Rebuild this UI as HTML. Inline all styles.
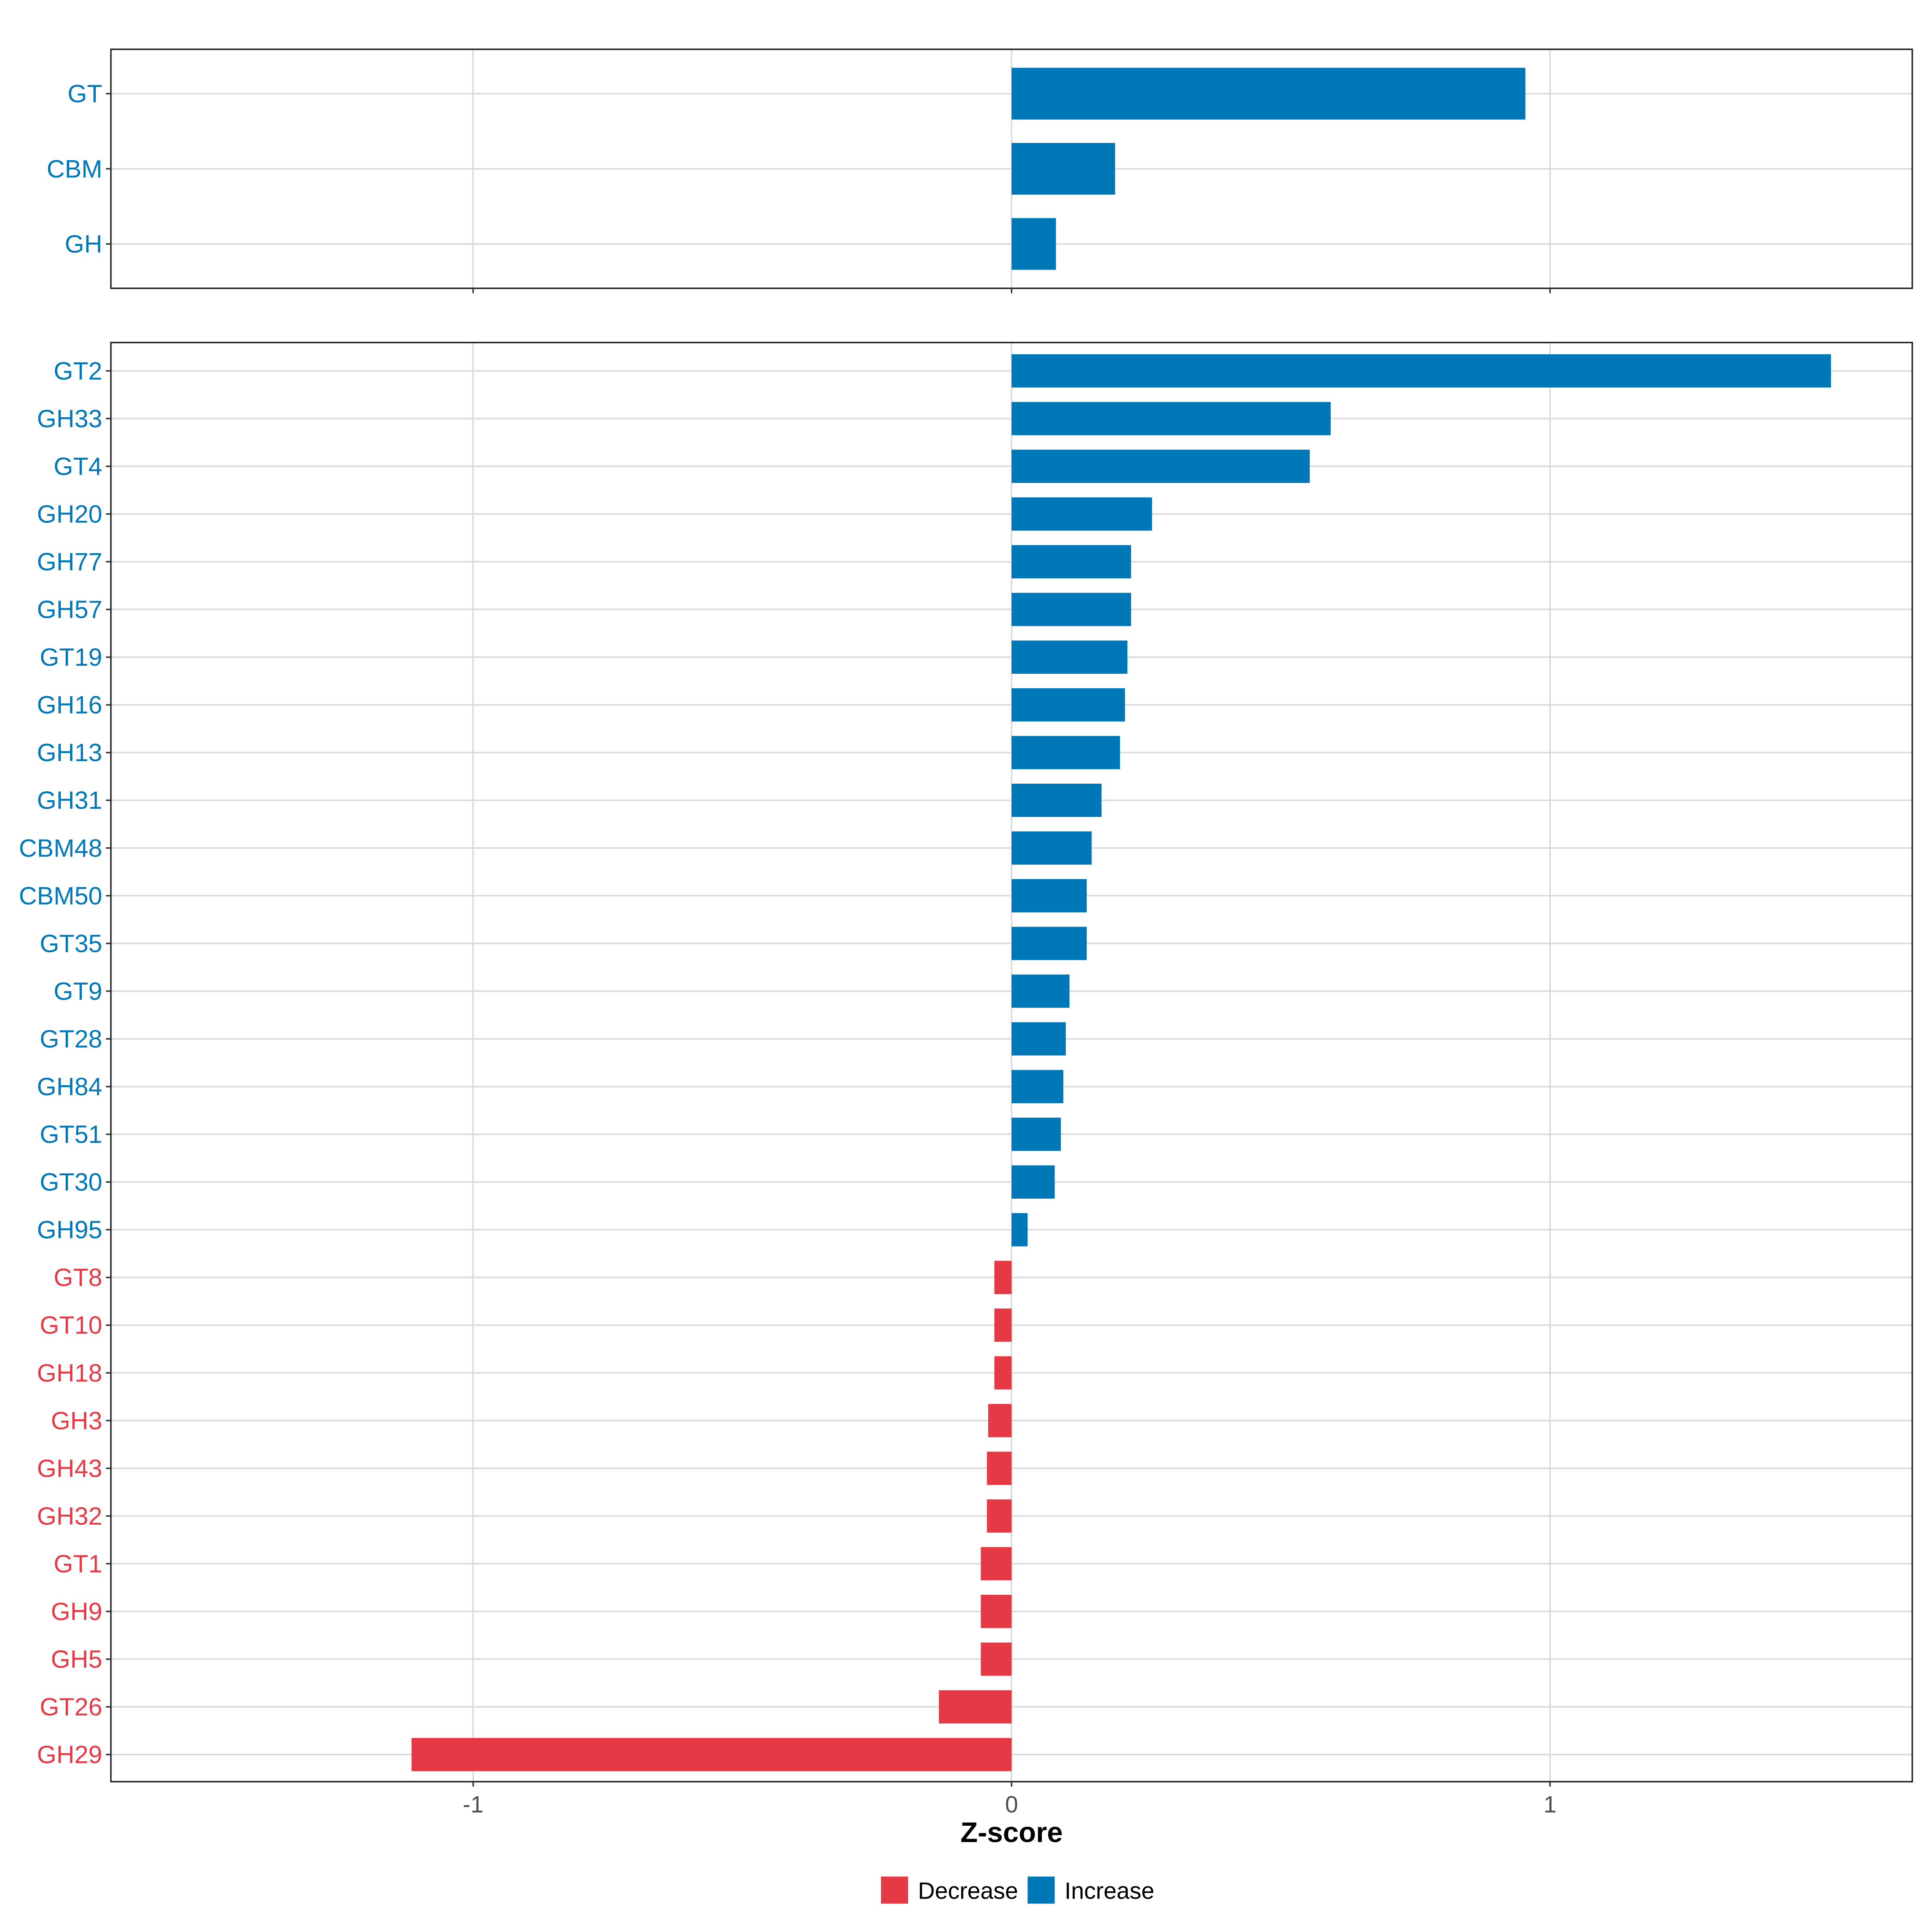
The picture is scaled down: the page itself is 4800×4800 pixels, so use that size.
<!DOCTYPE html>
<html><head><meta charset="utf-8"><style>html,body{margin:0;padding:0;background:#fff}svg{display:block}</style></head>
<body>
<svg xmlns="http://www.w3.org/2000/svg" width="4800" height="4800" viewBox="0 0 1568 1568" font-family="Liberation Sans, Arial, sans-serif">
<rect width="1568" height="1568" fill="#fff"/>
<g id="top">
<g stroke="#d9d9d9" stroke-width="1.2">
<line x1="384" y1="40" x2="384" y2="234"/><line x1="821" y1="40" x2="821" y2="234"/><line x1="1258" y1="40" x2="1258" y2="234"/>
<line x1="90" y1="76" x2="1552" y2="76"/><line x1="90" y1="137" x2="1552" y2="137"/><line x1="90" y1="198" x2="1552" y2="198"/>
</g>
<g fill="#0077B6">
<rect x="821" y="55" width="417" height="42"/>
<rect x="821" y="116" width="84" height="42"/>
<rect x="821" y="177" width="36" height="42"/>
</g>
<rect x="90" y="40" width="1462" height="194" fill="none" stroke="#222" stroke-width="1.2"/>
<g stroke="#333" stroke-width="1.2">
<line x1="86" y1="76" x2="90" y2="76"/><line x1="86" y1="137" x2="90" y2="137"/><line x1="86" y1="198" x2="90" y2="198"/>
<line x1="384" y1="234" x2="384" y2="238"/><line x1="821" y1="234" x2="821" y2="238"/><line x1="1258" y1="234" x2="1258" y2="238"/>
</g>
<g fill="#0077B6" font-size="20.3" text-anchor="end">
<text x="83" y="83">GT</text><text x="83" y="144">CBM</text><text x="83" y="205">GH</text>
</g>
</g>
<g id="bottom"></g>
<script>
(function(){
var ns="http://www.w3.org/2000/svg",g=document.getElementById("bottom");
function el(t,a,txt){var e=document.createElementNS(ns,t);for(var k in a)e.setAttribute(k,a[k]);if(txt)e.textContent=txt;g.appendChild(e);return e;}
var d=[["GT2",1486],["GH33",1080],["GT4",1063],["GH20",935],["GH77",918],["GH57",918],["GT19",915],["GH16",913],["GH13",909],["GH31",894],["CBM48",886],["CBM50",882],["GT35",882],["GT9",868],["GT28",865],["GH84",863],["GT51",861],["GT30",856],["GH95",834],["GT8",807],["GT10",807],["GH18",807],["GH3",802],["GH43",801],["GH32",801],["GT1",796],["GH9",796],["GH5",796],["GT26",762],["GH29",334]];
[384,821,1258].forEach(function(x){el("line",{x1:x,y1:278,x2:x,y2:1446,stroke:"#d9d9d9","stroke-width":1.2});});
var step=(1424-301)/29;
d.forEach(function(r,i){var y=301+i*step;el("line",{x1:90,y1:y,x2:1552,y2:y,stroke:"#d9d9d9","stroke-width":1.2});});
d.forEach(function(r,i){var y=301+i*step;var c=r[1]>=821?"#0077B6":"#E63946";
var x0=Math.min(821,r[1]),w=Math.abs(r[1]-821);
el("rect",{x:x0,y:y-13.5,width:w,height:27,fill:c});
el("line",{x1:86,y1:y,x2:90,y2:y,stroke:"#333","stroke-width":1.2});
el("text",{x:83,y:y+7,fill:c,"font-size":20.3,"text-anchor":"end"},r[0]);});
el("rect",{x:90,y:278,width:1462,height:1168,fill:"none",stroke:"#222","stroke-width":1.2});
[[384,"-1"],[821,"0"],[1258,"1"]].forEach(function(t){el("line",{x1:t[0],y1:1446,x2:t[0],y2:1450,stroke:"#333","stroke-width":1.2});
el("text",{x:t[0],y:1471,fill:"#4d4d4d","font-size":19,"text-anchor":"middle"},t[1]);});
el("text",{x:821,y:1495,fill:"#000","font-size":23,"font-weight":"bold","text-anchor":"middle"},"Z-score");
el("rect",{x:715,y:1523,width:22,height:22,fill:"#E63946"});
el("text",{x:745,y:1541,fill:"#000","font-size":19},"Decrease");
el("rect",{x:834,y:1523,width:22,height:22,fill:"#0077B6"});
el("text",{x:864,y:1541,fill:"#000","font-size":19},"Increase");
})();
</script>
</svg>
</body></html>
